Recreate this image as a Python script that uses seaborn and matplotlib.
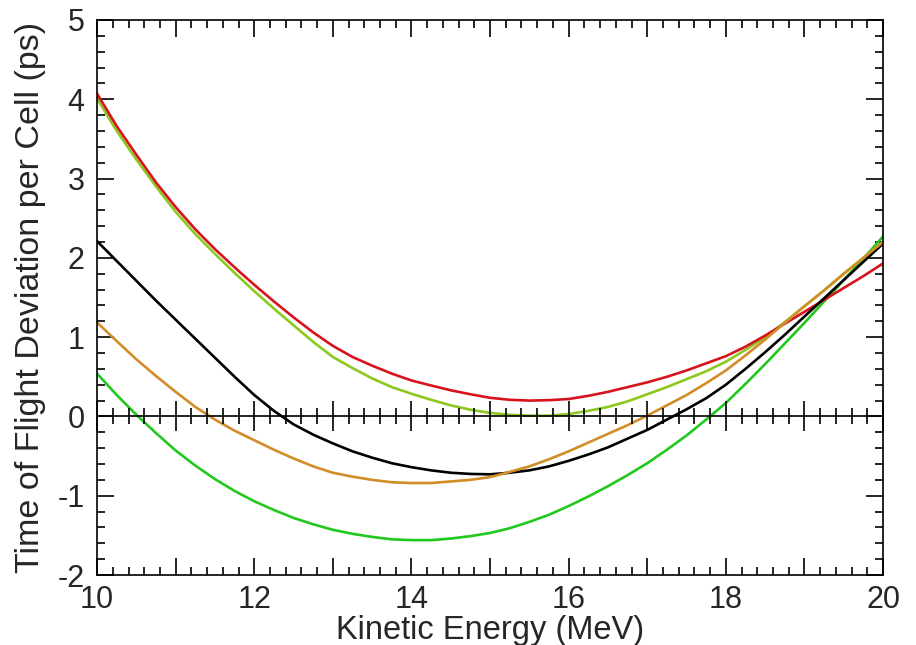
import matplotlib
matplotlib.use("Agg")
import matplotlib.pyplot as plt
import pandas as pd
import seaborn as sns
from matplotlib.ticker import MultipleLocator, FuncFormatter

# Kinetic energy samples (MeV)
energy = [10.00, 10.25, 10.50, 10.75, 11.00, 11.25, 11.50, 11.75, 12.00, 12.25,
          12.50, 12.75, 13.00, 13.25, 13.50, 13.75, 14.00, 14.25, 14.50, 14.75,
          15.00, 15.25, 15.50, 15.75, 16.00, 16.25, 16.50, 16.75, 17.00, 17.25,
          17.50, 17.75, 18.00, 18.25, 18.50, 18.75, 19.00, 19.25, 19.50, 19.75,
          20.00]

# Time-of-flight deviation per cell (ps) for each setting
tof_red = [4.07, 3.66, 3.30, 2.95, 2.64, 2.36, 2.11, 1.88, 1.66, 1.45,
           1.25, 1.06, 0.89, 0.75, 0.64, 0.54, 0.454, 0.39, 0.33, 0.28,
           0.235, 0.21, 0.20, 0.205, 0.22, 0.26, 0.31, 0.37, 0.43, 0.50,
           0.58, 0.67, 0.76, 0.88, 1.02, 1.17, 1.32, 1.47, 1.62, 1.77,
           1.93]
tof_lime = [4.01, 3.60, 3.24, 2.90, 2.58, 2.30, 2.05, 1.81, 1.58, 1.36,
            1.15, 0.94, 0.75, 0.61, 0.48, 0.37, 0.286, 0.21, 0.14, 0.085,
            0.045, 0.02, 0.01, 0.01, 0.03, 0.07, 0.12, 0.19, 0.28, 0.37,
            0.47, 0.57, 0.69, 0.84, 1.00, 1.19, 1.39, 1.59, 1.80, 2.00,
            2.20]
tof_black = [2.21, 1.96, 1.71, 1.46, 1.22, 0.98, 0.74, 0.50, 0.27, 0.07,
             -0.10, -0.23, -0.34, -0.44, -0.52, -0.59, -0.64, -0.68, -0.71, -0.725,
             -0.73, -0.71, -0.68, -0.63, -0.56, -0.48, -0.39, -0.28, -0.17, -0.04,
             0.09, 0.23, 0.40, 0.60, 0.81, 1.03, 1.26, 1.49, 1.72, 1.95,
             2.18]
tof_orange = [1.185, 0.95, 0.72, 0.51, 0.31, 0.12, -0.04, -0.18, -0.30, -0.42,
              -0.53, -0.63, -0.71, -0.76, -0.80, -0.83, -0.84, -0.84, -0.82, -0.80,
              -0.765, -0.70, -0.63, -0.54, -0.44, -0.33, -0.22, -0.11, 0.01, 0.14,
              0.27, 0.42, 0.58, 0.77, 0.97, 1.18, 1.39, 1.59, 1.80, 2.00,
              2.20]
tof_green = [0.54, 0.27, 0.02, -0.21, -0.43, -0.62, -0.79, -0.94, -1.07, -1.18,
             -1.28, -1.36, -1.43, -1.48, -1.52, -1.55, -1.56, -1.56, -1.54, -1.51,
             -1.47, -1.41, -1.33, -1.24, -1.13, -1.01, -0.88, -0.74, -0.59, -0.42,
             -0.24, -0.04, 0.17, 0.41, 0.66, 0.92, 1.18, 1.45, 1.72, 1.99,
             2.27]

series = {
    "green": tof_green,
    "lime": tof_lime,
    "red": tof_red,
    "black": tof_black,
    "orange": tof_orange,
}
colors = {
    "green": "#22c81e",
    "lime": "#8cc81e",
    "red": "#d7141e",
    "black": "#000000",
    "orange": "#d28c28",
}

long = pd.concat(
    [pd.DataFrame({"energy": energy, "tof": vals, "setting": name})
     for name, vals in series.items()],
    ignore_index=True,
)

sns.set_style("ticks")
plt.rcParams["font.family"] = ["Liberation Sans", "DejaVu Sans"]
plt.rcParams["axes.unicode_minus"] = False

fig = plt.figure(figsize=(9.16, 6.45), dpi=100)
rect = [0.106, 0.1085, 0.858, 0.8605]
ax = fig.add_axes(rect)

sns.lineplot(data=long, x="energy", y="tof", hue="setting",
             hue_order=list(series.keys()), palette=colors,
             estimator=None, sort=False, linewidth=1.9, legend=False, ax=ax)

ax.set_xlim(10, 20)
ax.set_ylim(-2, 5)

ax.xaxis.set_major_locator(MultipleLocator(1))
ax.xaxis.set_minor_locator(MultipleLocator(0.2))
ax.xaxis.set_major_formatter(
    FuncFormatter(lambda v, p: f"{v:.0f}" if round(v) % 2 == 0 else ""))
ax.yaxis.set_major_locator(MultipleLocator(1))
ax.yaxis.set_minor_locator(MultipleLocator(0.2))

ax.tick_params(which="both", direction="in", top=True, right=True,
               color="black", width=1.2)
ax.tick_params(which="major", length=12, labelsize=22)
ax.tick_params(axis="y", which="major", pad=9)
ax.tick_params(axis="x", which="major", pad=7)
ax.tick_params(which="minor", length=5.5)
for sp in ax.spines.values():
    sp.set_linewidth(1.2)
    sp.set_color("black")

# zero line with ticks crossing it, drawn by an overlaid transparent axes
ax0 = fig.add_axes(rect)
ax0.set_xlim(10, 20)
ax0.set_ylim(-2, 5)
ax0.patch.set_visible(False)
for side in ("top", "left", "right"):
    ax0.spines[side].set_visible(False)
ax0.spines["bottom"].set_position(("data", 0))
ax0.spines["bottom"].set_linewidth(1.2)
ax0.spines["bottom"].set_color("black")
ax0.yaxis.set_visible(False)
ax0.xaxis.set_major_locator(MultipleLocator(1))
ax0.xaxis.set_minor_locator(MultipleLocator(0.2))
ax0.tick_params(axis="x", which="both", direction="inout", color="black",
                width=1.2, labelbottom=False, top=False)
ax0.tick_params(axis="x", which="major", length=22)
ax0.tick_params(axis="x", which="minor", length=11)

ax.set_xlabel("Kinetic Energy (MeV)", fontsize=23.5, labelpad=0)
ax.set_ylabel("Time of Flight Deviation per Cell (ps)", fontsize=24.5, labelpad=8)

fig.savefig("out.png", dpi=100)
